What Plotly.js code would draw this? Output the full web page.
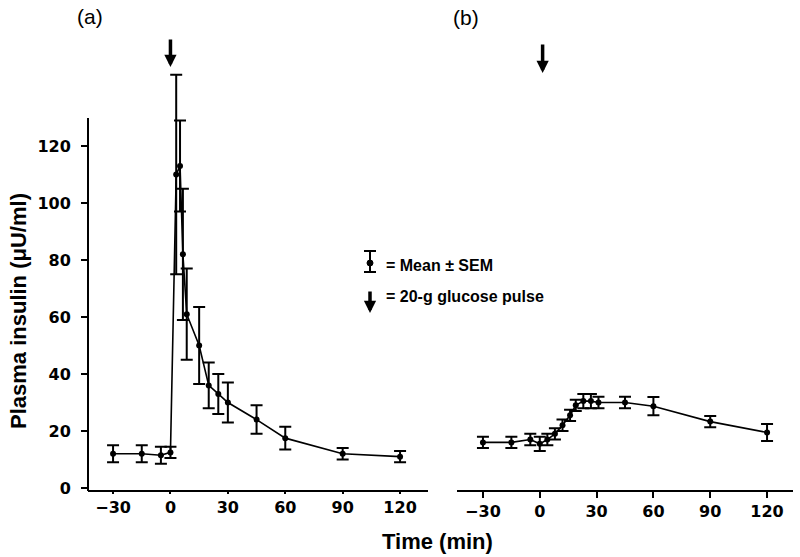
<!DOCTYPE html>
<html>
<head>
<meta charset="utf-8">
<script src="https://cdn.plot.ly/plotly-3.0.1.min.js"></script>
<style>html,body{margin:0;padding:0;background:#fff;}#chart{width:800px;height:557px;}</style>
</head>
<body>
<div id="chart"></div>
<script>
// Panel (a): insulin after glucose pulse
const timeA = [-30, -15, -5, 0, 3, 5, 6.5, 8.5, 15, 20, 25, 30, 45, 60, 90, 120];
const insulinA = [12, 12, 11.5, 12.5, 110, 113, 82, 61, 50, 36, 33, 30, 24, 17.5, 12, 11];
const semA = [3, 3, 3, 2, 35, 16, 23, 16, 13.5, 8, 7, 7, 5, 4, 2, 2];

// Panel (b)
const timeB = [-30, -15, -5, 0, 4, 8, 12, 16, 19, 23, 27, 31, 45, 60, 90, 120];
const insulinB = [16, 16, 17, 15.5, 17, 19, 22, 25.5, 29, 30.5, 30.5, 30, 30, 28.7, 23.3, 19.5];
const semB = [2, 2, 2, 2.5, 2, 2, 2, 2, 2, 2.5, 2.5, 2, 2, 3.2, 2, 3];

const xTicks = [-30, 0, 30, 60, 90, 120];
const xTickText = ['\u221230', '0', '30', '60', '90', '120'];
const yTicks = [0, 20, 40, 60, 80, 100, 120];

const W = 800, H = 557;
const px = v => v / W;
const py = v => 1 - v / H;

const tickFont = {family: 'DejaVu Sans', size: 16, color: '#000', weight: 'bold'};
const boldFont = {family: 'Liberation Sans, Arial', size: 22, color: '#000', weight: 'bold'};

function trace(x, y, e, xa, ya) {
  return {
    x: x, y: y, xaxis: xa, yaxis: ya, type: 'scatter', mode: 'lines+markers',
    line: {color: '#000', width: 1.6},
    marker: {color: '#000', size: 6},
    error_y: {type: 'data', array: e, visible: true, color: '#000', thickness: 2, width: 6},
    showlegend: false, hoverinfo: 'skip'
  };
}

const data = [
  trace(timeA, insulinA, semA, 'x', 'y'),
  trace(timeB, insulinB, semB, 'x2', 'y2')
];

const yRange = [-0.7, 150.2];
const yDomain = [py(490), py(60)];

const layout = {
  width: W, height: H,
  margin: {l: 0, r: 0, t: 0, b: 0},
  paper_bgcolor: '#fff', plot_bgcolor: 'rgba(0,0,0,0)',
  showlegend: false,
  xaxis: {
    domain: [px(88), px(428)], range: [-43.1, 134.6], anchor: 'y',
    tickvals: xTicks, ticktext: xTickText, ticks: 'outside', ticklen: 2, tickwidth: 2, tickcolor: '#000',
    showline: true, linecolor: '#000', linewidth: 2, showgrid: false, zeroline: false,
    tickfont: tickFont, automargin: false
  },
  yaxis: {
    domain: yDomain, range: yRange, anchor: 'x',
    tickvals: yTicks, ticks: 'outside', ticklen: 6, tickwidth: 2, tickcolor: '#000',
    ticklabelstandoff: 7,
    showline: false, showgrid: false, zeroline: false,
    tickfont: tickFont, automargin: false
  },
  xaxis2: {
    domain: [px(457), px(793)], range: [-43.7, 133.7], anchor: 'y2',
    tickvals: xTicks, ticktext: xTickText, ticks: 'outside', ticklen: 6, tickwidth: 2, tickcolor: '#000',
    showline: true, linecolor: '#000', linewidth: 2, showgrid: false, zeroline: false,
    tickfont: tickFont, automargin: false
  },
  yaxis2: {
    domain: yDomain, range: yRange, anchor: 'x2',
    visible: false, showgrid: false, zeroline: false
  },
  shapes: [
    // left y-axis line (panel a)
    {type: 'line', xref: 'paper', yref: 'paper', x0: px(88), x1: px(88), y0: py(491), y1: py(118),
     line: {color: '#000', width: 2}},
    // legend key: error bar symbol
    {type: 'line', xref: 'paper', yref: 'paper', x0: px(370), x1: px(370), y0: py(251), y1: py(272),
     line: {color: '#000', width: 2}},
    {type: 'line', xref: 'paper', yref: 'paper', x0: px(364), x1: px(376), y0: py(251), y1: py(251),
     line: {color: '#000', width: 2}},
    {type: 'line', xref: 'paper', yref: 'paper', x0: px(364), x1: px(376), y0: py(272), y1: py(272),
     line: {color: '#000', width: 2}},
    {type: 'circle', xref: 'paper', yref: 'paper', x0: px(367), x1: px(373), y0: py(266), y1: py(260),
     fillcolor: '#000', line: {color: '#000', width: 1}}
  ],
  annotations: [
    {text: '(a)', xref: 'paper', yref: 'paper', x: px(90), y: py(17), showarrow: false,
     font: {family: 'Liberation Sans, Arial', size: 21, color: '#000'}, xanchor: 'center', yanchor: 'middle'},
    {text: '(b)', xref: 'paper', yref: 'paper', x: px(466), y: py(18), showarrow: false,
     font: {family: 'Liberation Sans, Arial', size: 21, color: '#000'}, xanchor: 'center', yanchor: 'middle'},
    {text: 'Time (min)', xref: 'paper', yref: 'paper', x: px(437), y: py(541), showarrow: false,
     font: boldFont, xanchor: 'center', yanchor: 'middle'},
    {text: 'Plasma insulin (\u03bcU/ml)', xref: 'paper', yref: 'paper', x: px(18), y: py(311), showarrow: false,
     font: boldFont, textangle: -90, xanchor: 'center', yanchor: 'middle'},
    {text: '= Mean \u00b1 SEM', xref: 'paper', yref: 'paper', x: px(384), y: py(265), showarrow: false,
     font: {family: 'Liberation Sans, Arial', size: 16, color: '#000', weight: 'bold'}, xanchor: 'left', yanchor: 'middle'},
    {text: '= 20-g glucose pulse', xref: 'paper', yref: 'paper', x: px(384), y: py(296), showarrow: false,
     font: {family: 'Liberation Sans, Arial', size: 16, color: '#000', weight: 'bold'}, xanchor: 'left', yanchor: 'middle'},
    // pulse arrows
    {text: '', xref: 'x', yref: 'paper', x: 0, y: py(67), showarrow: true, ax: 0, ay: -29,
     arrowhead: 2, arrowsize: 0.7, arrowwidth: 3.5, arrowcolor: '#000'},
    {text: '', xref: 'x2', yref: 'paper', x: 1.5, y: py(73), showarrow: true, ax: 0, ay: -30,
     arrowhead: 2, arrowsize: 0.7, arrowwidth: 3.5, arrowcolor: '#000'},
    {text: '', xref: 'paper', yref: 'paper', x: px(370), y: py(313), showarrow: true, ax: 0, ay: -23,
     arrowhead: 2, arrowsize: 0.7, arrowwidth: 3.5, arrowcolor: '#000'}
  ]
};

Plotly.newPlot('chart', data, layout, {displayModeBar: false, staticPlot: true});
</script>
</body>
</html>
